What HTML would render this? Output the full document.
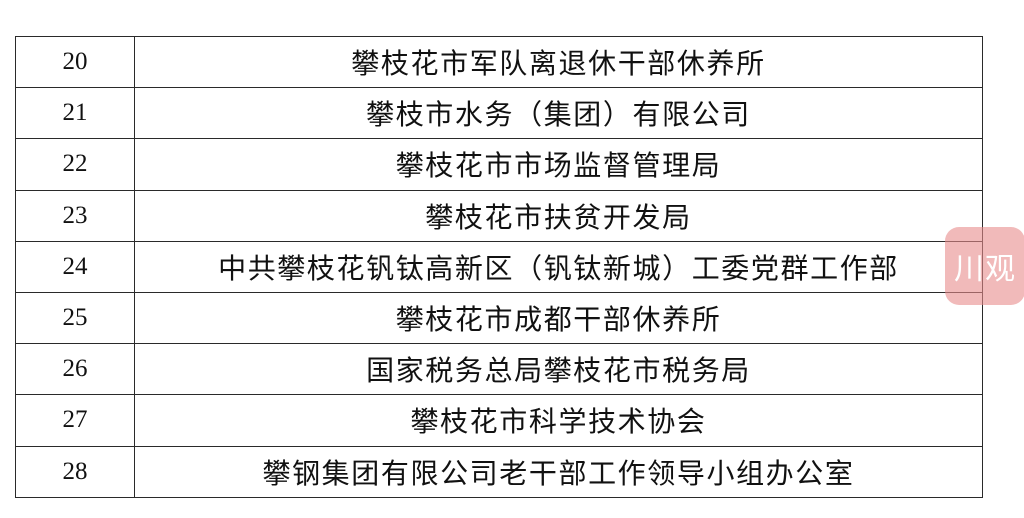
<!DOCTYPE html>
<html><head><meta charset="utf-8"><style>
html,body{margin:0;padding:0;background:#fff;width:1024px;height:518px;overflow:hidden;position:relative}
table{position:absolute;left:15px;top:36px;border-collapse:collapse;width:968px}
td{border:1.6px solid #2a2a2a;height:50.2px;padding:0;text-align:center;color:#111}
td.n{width:118px;font-family:"Liberation Serif",serif;font-size:25px}
td.t{font-family:"Liberation Sans","Noto Sans CJK SC",sans-serif;font-size:28px;letter-spacing:1.6px}
.wm{position:absolute;left:945px;top:227px;width:80px;height:78px;border-radius:14px;background:rgba(232,140,140,0.6);color:#fff;font-family:"Noto Sans CJK SC",sans-serif;font-size:30px;line-height:78px;text-align:center;letter-spacing:1px}
</style></head><body>
<table>
<tr><td class="n">20</td><td class="t">攀枝花市军队离退休干部休养所</td></tr>
<tr><td class="n">21</td><td class="t">攀枝市水务（集团）有限公司</td></tr>
<tr><td class="n">22</td><td class="t">攀枝花市市场监督管理局</td></tr>
<tr><td class="n">23</td><td class="t">攀枝花市扶贫开发局</td></tr>
<tr><td class="n">24</td><td class="t">中共攀枝花钒钛高新区（钒钛新城）工委党群工作部</td></tr>
<tr><td class="n">25</td><td class="t">攀枝花市成都干部休养所</td></tr>
<tr><td class="n">26</td><td class="t">国家税务总局攀枝花市税务局</td></tr>
<tr><td class="n">27</td><td class="t">攀枝花市科学技术协会</td></tr>
<tr><td class="n">28</td><td class="t">攀钢集团有限公司老干部工作领导小组办公室</td></tr>
</table>
<div class="wm">川观</div>
</body></html>
